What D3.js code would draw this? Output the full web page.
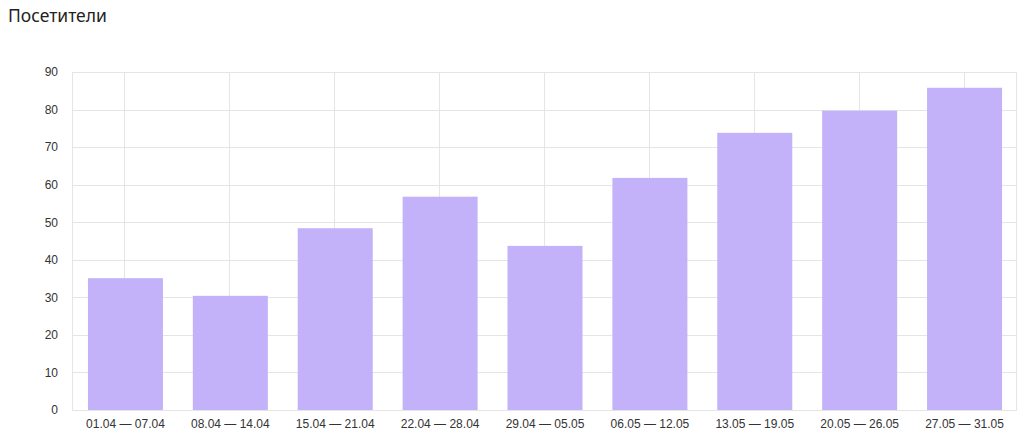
<!DOCTYPE html>
<html>
<head>
<meta charset="utf-8">
<script src="https://cdn.jsdelivr.net/npm/d3@7"></script>
<style>
  body { margin: 0; background: #fff; }
  text { font-family: "Liberation Sans", Arial, sans-serif; }
</style>
</head>
<body>
<div id="chart"></div>
<script>
const title = "Посетители";
const categories = ["01.04 — 07.04", "08.04 — 14.04", "15.04 — 21.04", "22.04 — 28.04", "29.04 — 05.05",
                    "06.05 — 12.05", "13.05 — 19.05", "20.05 — 26.05", "27.05 — 31.05"];
const visitors = [35.1, 30.4, 48.4, 56.8, 43.7, 61.8, 73.8, 79.7, 85.8];
const yTicks = [0, 10, 20, 30, 40, 50, 60, 70, 80, 90];

const width = 1034, height = 440;
const margin = {top: 72, right: 18, bottom: 30, left: 72};
const gridColor = "#e5e5e5";

const svg = d3.select("#chart").append("svg")
    .attr("width", width)
    .attr("height", height);

svg.append("text")
    .attr("x", 8)
    .attr("y", 22)
    .attr("fill", "#222")
    .style("font-family", "'Noto Sans', 'Open Sans', sans-serif")
    .style("font-size", "17.5px")
    .text(title);

const x = d3.scaleBand()
    .domain(categories)
    .range([margin.left + 1, width - margin.right + 1])
    .paddingInner(0.285)
    .paddingOuter(0.1425);

const y = d3.scaleLinear()
    .domain([0, 90])
    .range([height - margin.bottom, margin.top]);

// horizontal grid
svg.append("g")
  .selectAll("line")
  .data(yTicks)
  .join("line")
    .attr("x1", margin.left)
    .attr("x2", width - margin.right)
    .attr("y1", d => Math.round(y(d)) + 0.5)
    .attr("y2", d => Math.round(y(d)) + 0.5)
    .attr("stroke", gridColor);

// vertical grid at category centers
svg.append("g")
  .selectAll("line")
  .data(categories)
  .join("line")
    .attr("x1", d => Math.round(x(d) + x.bandwidth() / 2) - 0.5)
    .attr("x2", d => Math.round(x(d) + x.bandwidth() / 2) - 0.5)
    .attr("y1", margin.top)
    .attr("y2", height - margin.bottom)
    .attr("stroke", gridColor);

// plot frame
svg.append("rect")
    .attr("x", margin.left + 0.5)
    .attr("y", Math.round(y(90)) + 0.5)
    .attr("width", width - margin.right - margin.left)
    .attr("height", Math.round(y(0)) - Math.round(y(90)))
    .attr("fill", "none")
    .attr("stroke", gridColor);

// bars
svg.append("g")
  .selectAll("rect")
  .data(visitors)
  .join("rect")
    .attr("x", (d, i) => x(categories[i]))
    .attr("y", d => y(d))
    .attr("width", x.bandwidth())
    .attr("height", d => y(0) - y(d))
    .attr("fill", "#c3b2f9");

// y axis labels
const yAxis = d3.axisLeft(y).tickValues(yTicks).tickSize(0).tickPadding(14);
svg.append("g")
    .attr("transform", `translate(${margin.left},0)`)
    .call(yAxis)
    .call(g => g.select(".domain").remove())
    .call(g => g.selectAll("text")
        .attr("fill", "#333")
        .style("font-size", "12px"));

// x axis labels
const xAxis = d3.axisBottom(x).tickSize(0).tickPadding(9);
svg.append("g")
    .attr("transform", `translate(0,${height - margin.bottom})`)
    .call(xAxis)
    .call(g => g.select(".domain").remove())
    .call(g => g.selectAll("text")
        .attr("fill", "#333")
        .style("font-size", "12px"));
</script>
</body>
</html>
